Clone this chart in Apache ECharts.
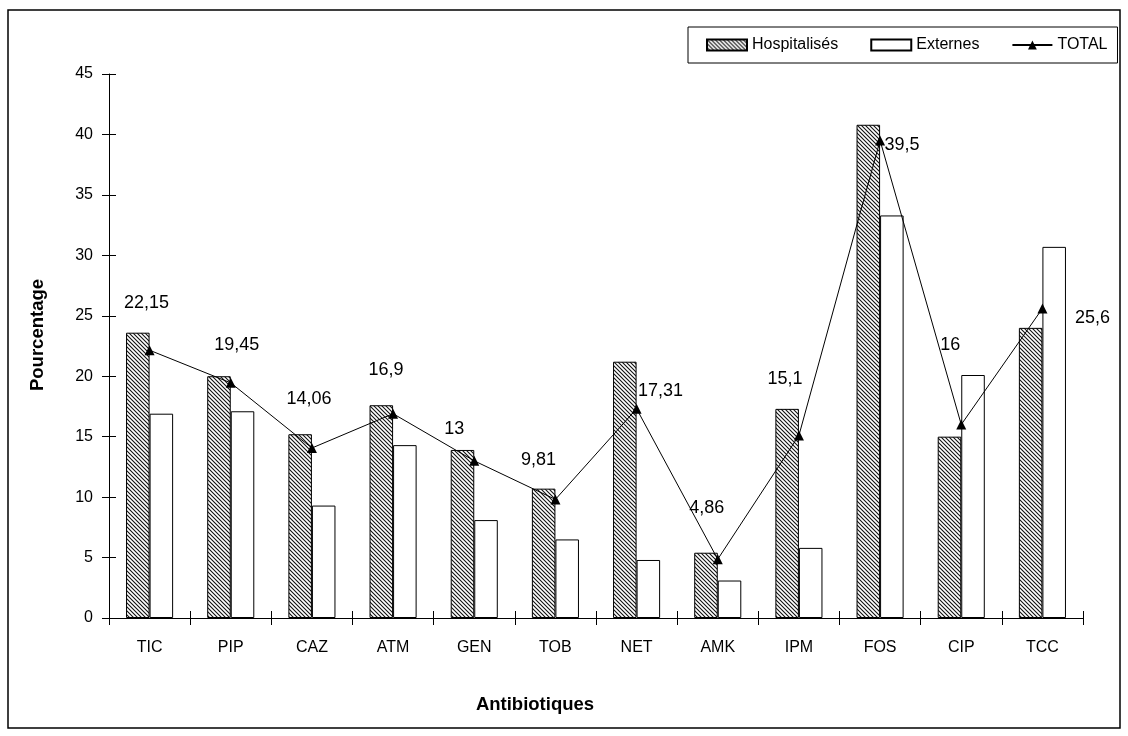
<!DOCTYPE html>
<html>
<head>
<meta charset="utf-8">
<script src="https://cdn.jsdelivr.net/npm/echarts@6/dist/echarts.min.js"></script>
<style>
html,body{margin:0;padding:0;background:#fff;}
#chart{width:1128px;height:736px;}
</style>
</head>
<body>
<div id="chart"></div>
<script>
const categories = ['TIC','PIP','CAZ','ATM','GEN','TOB','NET','AMK','IPM','FOS','CIP','TCC'];
const hospitalises = [23.6, 20.0, 15.2, 17.6, 13.9, 10.7, 21.2, 5.4, 17.3, 40.8, 15.0, 24.0];
const externes = [16.9, 17.1, 9.3, 14.3, 8.1, 6.5, 4.8, 3.1, 5.8, 33.3, 20.1, 30.7];
const total = [22.15, 19.45, 14.06, 16.9, 13, 9.81, 17.31, 4.86, 15.1, 39.5, 16, 25.6];
const yMin = 0, yMax = 45, yStep = 5;

// label offsets for the TOTAL data labels (style only)
const labelOffsets = [[-3,-47],[6,-38],[-3,-49],[-7,-44],[-20,-32],[-17,-39],[24,-18],[-11,-51],[-14,-56],[22,5],[-11,-80],[50,10]];

function hatch(){
  const c = document.createElement('canvas');
  c.width = c.height = 4;
  const g = c.getContext('2d');
  g.fillStyle = '#fff'; g.fillRect(0,0,4,4);
  g.strokeStyle = '#111'; g.lineWidth = 1.1;
  g.beginPath();
  g.moveTo(-1,-1); g.lineTo(5,5);
  g.moveTo(-1,3); g.lineTo(1,5);
  g.moveTo(3,-1); g.lineTo(5,1);
  g.stroke();
  return c;
}
const FONT = '"Liberation Sans", Arial, sans-serif';
const chart = echarts.init(document.getElementById('chart'), null, {renderer:'canvas'});
const fmt = v => String(v).replace('.', ',');

chart.setOption({
  animation: false,
  backgroundColor: '#fff',
  textStyle: {fontFamily: FONT, color: '#000'},
  graphic: [{
    type: 'rect', silent: true,
    shape: {x: 8, y: 10, width: 1112, height: 718},
    style: {fill: 'none', stroke: '#000', lineWidth: 1.5}
  }],
  legend: {
    left: 688, top: 27,
    padding: [10, 10, 10, 18],
    itemGap: 32, itemWidth: 40, itemHeight: 11,
    borderColor: '#000', borderWidth: 1, backgroundColor: '#fff',
    textStyle: {fontFamily: FONT, fontSize: 16, color: '#000'},
    data: [{name: 'Hospitalisés', icon: 'rect'}, {name: 'Externes', icon: 'rect'}, 'TOTAL']
  },
  grid: {left: 109, right: 45, top: 74, bottom: 118, containLabel: false},
  xAxis: [{
    type: 'category', data: categories,
    name: 'Antibiotiques', nameLocation: 'middle', nameGap: 77,
    nameTextStyle: {fontFamily: FONT, fontSize: 18.5, fontWeight: 'bold', color: '#000', padding: [0, 122, 0, 0]},
    axisLine: {lineStyle: {color: '#000', width: 1}},
    axisTick: {show: true, length: 7, lineStyle: {color: '#000'}},
    axisLabel: {fontFamily: FONT, fontSize: 16, color: '#000', margin: 22}
  },{
    type: 'category', data: categories, position: 'bottom',
    axisLine: {show: false},
    axisTick: {show: true, inside: true, length: 7, lineStyle: {color: '#000'}},
    axisLabel: {show: false}
  }],
  yAxis: [{
    type: 'value', min: yMin, max: yMax, interval: yStep,
    name: 'Pourcentage', nameLocation: 'middle', nameGap: 62, nameRotate: 90,
    nameTextStyle: {fontFamily: FONT, fontSize: 18.5, fontWeight: 'bold', color: '#000', padding: [0, 0, 0, 22]},
    axisLine: {show: true, lineStyle: {color: '#000', width: 1}},
    axisTick: {show: true, length: 7, lineStyle: {color: '#000'}},
    axisLabel: {fontFamily: FONT, fontSize: 16, color: '#000', margin: 16},
    splitLine: {show: false}
  },{
    type: 'value', min: yMin, max: yMax, interval: yStep, position: 'left',
    axisLine: {show: false},
    axisTick: {show: true, inside: true, length: 7, lineStyle: {color: '#000'}},
    axisLabel: {show: false},
    splitLine: {show: false}
  }],
  series: [{
    name: 'Hospitalisés', type: 'bar', data: hospitalises,
    barGap: '0%', barCategoryGap: '42%',
    itemStyle: {color: {image: hatch(), repeat: 'repeat'}, borderColor: '#000', borderWidth: 1}
  },{
    name: 'Externes', type: 'bar', data: externes,
    barGap: '0%', barCategoryGap: '42%',
    itemStyle: {color: '#fff', borderColor: '#000', borderWidth: 1}
  },{
    name: 'TOTAL', type: 'line',
    data: total.map((v, i) => ({value: v, label: {offset: labelOffsets[i]}})),
    symbol: 'triangle', symbolSize: 10,
    itemStyle: {color: '#000'},
    lineStyle: {color: '#000', width: 1},
    label: {show: true, position: 'inside', fontFamily: FONT, fontSize: 18, color: '#000',
      formatter: p => fmt(p.value)}
  }]
});
</script>
</body>
</html>
